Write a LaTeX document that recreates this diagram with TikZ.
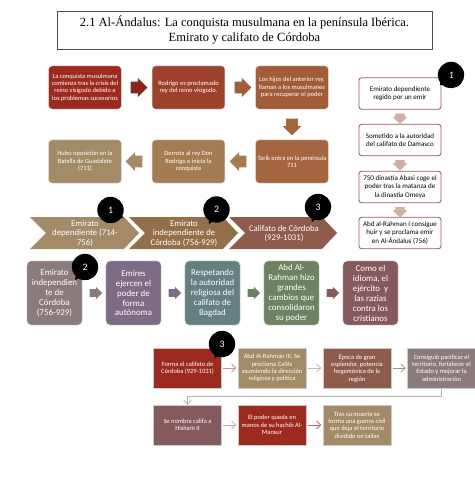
\documentclass[tikz,border=0pt]{standalone}
\usepackage{fontspec}
\setmainfont{Carlito}
\newfontfamily\titlefont{Liberation Serif}
\usetikzlibrary{arrows.meta,shapes.arrows,shapes.callouts,positioning}
\definecolor{rojo}{HTML}{9C2A1E}
\definecolor{rojob}{HTML}{9E412A}
\definecolor{cobre}{HTML}{A25C38}
\definecolor{cobreb}{HTML}{A5663F}
\definecolor{ocre}{HTML}{A57C52}
\definecolor{arena}{HTML}{A38B68}
\definecolor{teja}{HTML}{8F5B4B}
\definecolor{gris}{HTML}{8C7B7B}
\definecolor{malva}{HTML}{7E6C84}
\definecolor{azul}{HTML}{64807F}
\definecolor{verde}{HTML}{6C8260}
\definecolor{vino}{HTML}{855A5C}
\definecolor{borde}{HTML}{A5564E}
\definecolor{palo}{HTML}{CFAEA6}
\tikzset{
  caja/.style={draw=white!85!black,line width=0.3pt,rounded corners=2.5pt,minimum width=1.82cm,minimum height=1.08cm,
    align=center,text=white,inner sep=0pt,font=\fontsize{4.6}{5.2}\selectfont},
  marco/.style={draw=borde,fill=white,line width=0.6pt,rounded corners=2pt,minimum width=2.05cm,minimum height=0.79cm,
    align=center,text=black,inner sep=0pt,font=\fontsize{5}{5.9}\selectfont},
  grande/.style={draw=white!85!black,line width=0.3pt,rounded corners=3pt,minimum width=1.38cm,minimum height=1.6cm,
    align=center,text=white,inner sep=0pt,font=\fontsize{6.3}{7.1}\selectfont},
  plana/.style={draw=white!80!black,line width=0.3pt,minimum width=1.69cm,minimum height=1cm,
    align=center,text=white,inner sep=0pt,font=\fontsize{4.6}{5.2}\selectfont},
  galon/.style={align=center,text=white,inner sep=0pt,font=\fontsize{6.2}{6.8}\selectfont},
  flecha/.style={single arrow,minimum height=0.42cm,minimum width=0.47cm,single arrow head extend=0.09cm,inner xsep=0pt,inner ysep=0.14cm,shape border rotate=#1},
  flechita/.style={flecha=#1,minimum height=0.31cm,minimum width=0.31cm,single arrow head extend=0.06cm,inner ysep=0.09cm},
  flechabaja/.style={flecha=270,inner xsep=0.14cm,inner ysep=0pt},
  flechaba/.style={flecha=270,minimum height=0.26cm,minimum width=0.36cm,single arrow head extend=0.07cm,inner xsep=0.11cm,inner ysep=0pt,fill=palo},
  burbuja/.style={ellipse callout,fill=black,text=white,inner sep=0pt,minimum width=0.66cm,minimum height=0.66cm,font=\fontsize{7}{8}\selectfont},
  fina/.style={draw=#1,line width=0.6pt,-{Straight Barb[length=3pt,width=5.5pt]}},
}
\begin{document}
\begin{tikzpicture}[x=0.025cm,y=-0.025cm]
    \useasboundingbox (0,0) rectangle (474,480);
    % Titulo
    \node[draw=black!70,line width=0.4pt,minimum width=9.37cm,minimum height=0.95cm,align=center,inner sep=0pt,
      font=\titlefont\fontsize{8.9}{11}\selectfont] (titulo) at (244.5,30)
      {2.1 Al-Ándalus: La conquista musulmana en la península Ibérica.\\Emirato y califato de Córdoba};

    % Primer bloque
    \node[caja,fill=rojo] (a1) at (85,87.5) {La conquista musulmana\\comienza tras la crisis del\\reino visigodo debido a\\los problemas sucesorios};
    \node[caja,fill=rojob] (a2) at (188.5,87.5) {Rodrigo es proclamado\\rey del reino visigodo.};
    \node[caja,fill=cobre] (a3) at (292,87.5) {Los hijos del anterior rey,\\llaman a los musulmanes\\para recuperar el poder};
    \node[caja,fill=cobreb] (a4) at (292,161.5) {Tarik entra en la península\\711};
    \node[caja,fill=ocre] (a5) at (188.5,161.5) {Derrota al rey Don\\Rodrigo e inicia la\\conquista};
    \node[caja,fill=arena] (a6) at (85,161.5) {Hubo oposición en la\\Batalla de Guadalete\\(711)};
    \node[flecha=0,fill=rojo!90!black] (fa1) at (136,87.5) {};
    \node[flecha=0,fill=cobre] (fa2) at (240,87.5) {};
    \node[flechabaja,fill=cobreb] (fa3) at (292,124) {};
    \node[flecha=180,fill=ocre] (fa4) at (241,161.5) {};
    \node[flecha=180,fill=arena] (fa5) at (137,161.5) {};

    % Columna derecha
    \node[marco] (b1) at (400,93.5) {Emirato dependiente\\regido por un emir};
    \node[marco] (b2) at (400,140) {Sometido a la autoridad\\del califato de Damasco};
    \node[marco] (b3) at (400,187) {750 dinastía Abasi coge el\\poder tras la matanza de\\la dinastía Omeya};
    \node[marco] (b4) at (400,233) {Abd al-Rahman I consigue\\huir y se proclama emir\\en Al-Ándalus (756)};
    \node[flechaba] (fb1) at (400,116.5) {};
    \node[flechaba] (fb2) at (400,163) {};
    \node[flechaba] (fb3) at (400,210) {};

    % Galones
    \fill[arena] (30,217) -- (124,217) -- (139,233) -- (124,249) -- (30,249) -- (46,233) -- cycle;
    \fill[ocre!90!black] (129,217) -- (223,217) -- (238,233) -- (223,249) -- (129,249) -- (145,233) -- cycle;
    \fill[teja] (229,217) -- (322,217) -- (337,233) -- (322,249) -- (229,249) -- (245,233) -- cycle;
    \node[galon] (c1) at (85,233.5) {Emirato\\dependiente (714-\\756)};
    \node[galon] (c2) at (184,233.5) {Emirato\\independiente de\\Córdoba (756-929)};
    \node[galon] (c3) at (284,233.5) {Califato de Córdoba\\(929-1031)};

    % Tercer bloque
    \node[grande,fill=gris] (d1) at (54.5,293) {Emirato\\independien\\te de\\Córdoba\\(756-929)};
    \node[grande,fill=malva] (d2) at (133.5,293) {Emires\\ejercen el\\poder de\\forma\\autónoma};
    \node[grande,fill=azul] (d3) at (212.5,293) {Respetando\\la autoridad\\religiosa del\\califato de\\Bagdad};
    \node[grande,fill=verde] (d4) at (291.5,293) {Abd Al-\\Rahman hizo\\grandes\\cambios que\\consolidaron\\su poder};
    \node[grande,fill=vino] (d5) at (370.5,293) {Como el\\idioma, el\\ejército\ \ y\\las razias\\contra los\\cristianos};
    \node[flechita=0,fill=gris] (fd1) at (94,293) {};
    \node[flechita=0,fill=malva] (fd2) at (173,293) {};
    \node[flechita=0,fill=verde] (fd3) at (252,293) {};
    \node[flechita=0,fill=vino] (fd4) at (331,293) {};

    % Cuarto bloque
    \node[plana,fill=rojo] (e1) at (187.5,368) {Forma el califato de\\Córdoba (929-1031)};
    \node[plana,fill=arena] (e2) at (272,368) {Abd Al-Rahman III, Se\\proclama Califa\\asumiendo la dirección\\religiosa y política};
    \node[plana,fill=teja] (e3) at (357,368) {Época de gran\\esplendor, potencia\\hegemónica de la\\región};
    \node[plana,fill=gris] (e4) at (441.5,368) {Consiguió pacificar el\\territorio, fortalecer el\\Estado y mejorar la\\administración};
    \node[plana,fill=vino] (e5) at (187.5,425) {Se nombra califa a\\Hisham II};
    \node[plana,fill=rojo] (e6) at (272,425) {El poder queda en\\manos de su hachib Al-\\Mansur};
    \node[plana,fill=arena] (e7) at (357,425) {Tras su muerte se\\forma una guerra civil\\que deja el territorio\\dividido en taifas};
    \draw[fina=rojo!50,shorten <=0.4mm,shorten >=0.4mm] (e1) -- (e2);
    \draw[fina=arena!60,shorten <=0.4mm,shorten >=0.4mm] (e2) -- (e3);
    \draw[fina=teja!70,shorten <=0.4mm,shorten >=0.4mm] (e3) -- (e4);
    \draw[fina=gris!60,shorten <=0.4mm,shorten >=0.4mm] (e5) -- (e6);
    \draw[fina=rojo!70,shorten <=0.4mm,shorten >=0.4mm] (e6) -- (e7);
    \draw[fina=gris!60] (e4.south) |- (187.5,396.5) -- (e5.north);

    % Burbujas
    \node[burbuja,callout absolute pointer={(440,85)}] (n0) at (451,75) {\textit{1}};
    \node[burbuja,callout absolute pointer={(123,218)}] (n1) at (110.5,210) {1};
    \node[burbuja,callout absolute pointer={(209,224)}] (n2) at (216.5,209.5) {2};
    \node[burbuja,callout absolute pointer={(312,222)}] (n3) at (318,207) {3};
    \node[burbuja,callout absolute pointer={(75,280)}] (n4) at (85,267) {2};
    \node[burbuja,callout absolute pointer={(215,358)}] (n5) at (222,344) {3};
\end{tikzpicture}
\end{document}
